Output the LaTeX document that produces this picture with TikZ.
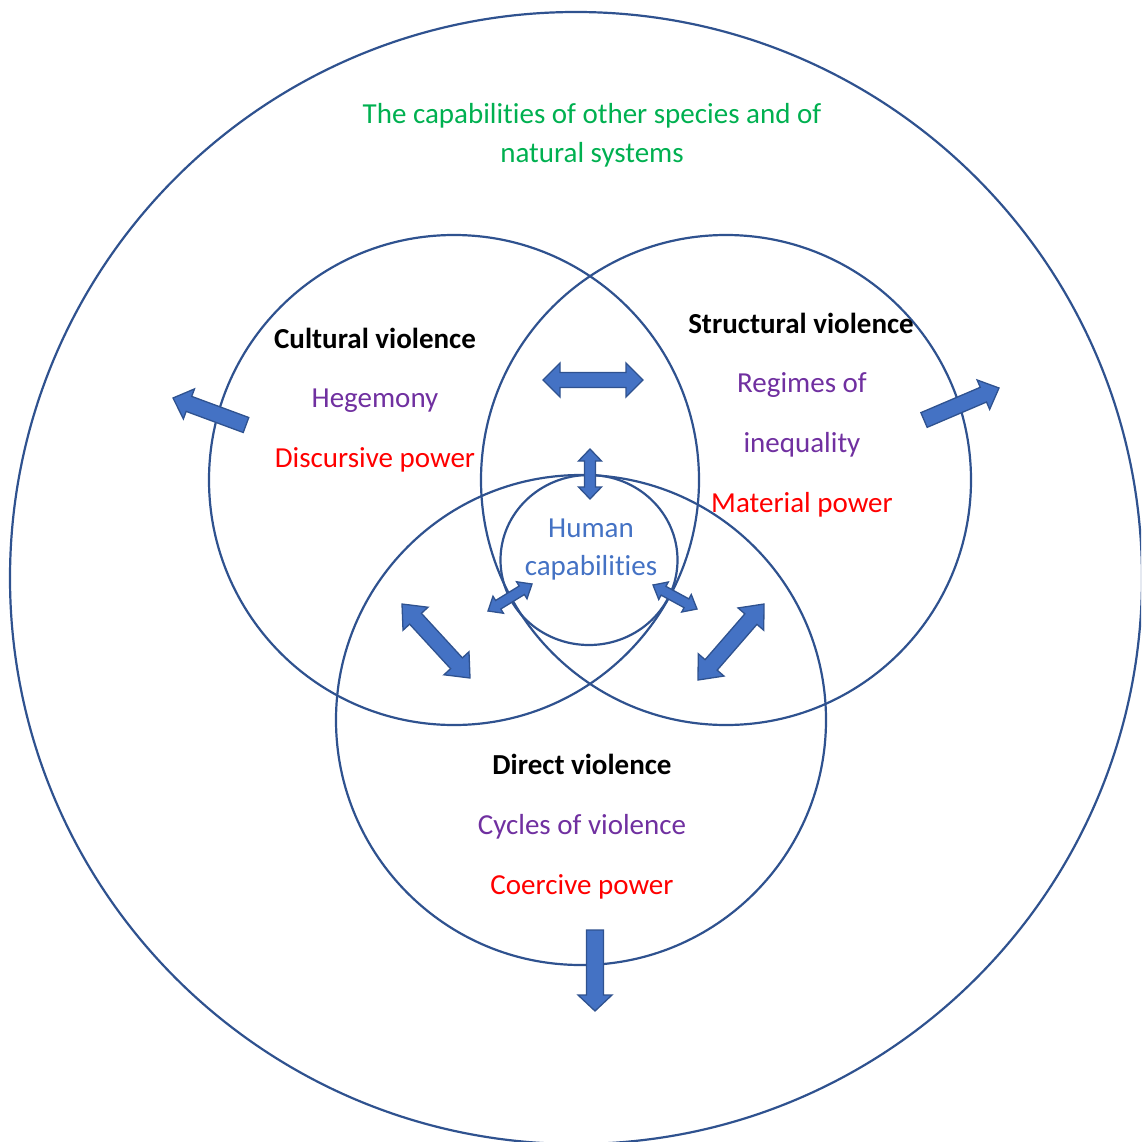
\documentclass[tikz,border=0pt]{standalone}
\usepackage{fontspec}
\setmainfont{Carlito}[Ligatures={NoCommon,NoRare,NoContextual}]
\usetikzlibrary{calc}
\definecolor{lineblue}{HTML}{2F528F}
\definecolor{fillblue}{HTML}{4472C4}
\definecolor{natgreen}{HTML}{00B050}
\definecolor{purp}{HTML}{7030A0}
\definecolor{redt}{HTML}{FF0000}
\newcommand\singlearrow[5]{% tail, tip, half shaft, half head, head length
  \coordinate (hb) at ($(#2)!#5!(#1)$);
  \draw[blockarrow] ($(#1)!#3!90:(#2)$) -- ($(hb)!#3!90:(#2)$) -- ($(hb)!#4!90:(#2)$) -- (#2)
    -- ($(hb)!#4!-90:(#2)$) -- ($(hb)!#3!-90:(#2)$) -- ($(#1)!#3!-90:(#2)$) -- cycle;}
\newcommand\doublearrow[5]{% end A, end B, half shaft, half head, head length
  \coordinate (ha) at ($(#1)!#5!(#2)$);
  \coordinate (hb) at ($(#2)!#5!(#1)$);
  \draw[blockarrow] (#1) -- ($(ha)!#4!90:(#2)$) -- ($(ha)!#3!90:(#2)$) -- ($(hb)!#3!90:(#2)$) -- ($(hb)!#4!90:(#2)$) -- (#2)
    -- ($(hb)!#4!-90:(#2)$) -- ($(hb)!#3!-90:(#2)$) -- ($(ha)!#3!-90:(#2)$) -- ($(ha)!#4!-90:(#2)$) -- cycle;}
\begin{document}
\begin{tikzpicture}[x=1pt,y=-1pt,
  ring/.style={draw=lineblue,line width=2.2pt},
  blockarrow/.style={fill=fillblue,draw=lineblue,line width=1.3pt,line join=miter},
  txt/.style={font=\fontsize{29}{39}\selectfont,anchor=base,inner sep=0pt},
  head/.style={txt,font=\fontsize{29}{39}\selectfont\bfseries,text=black},
  ]
\useasboundingbox (0,0) rectangle (1141,1142);
\clip (0,0) rectangle (1141,1142);
% circles
\coordinate (outer) at (576,578);
\coordinate (cult) at (454,480);
\coordinate (struct) at (726,480);
\coordinate (direct) at (581,720);
\coordinate (human) at (589,560);
\draw[ring] (outer) circle[radius=566];
\draw[ring] (cult) circle[radius=245];
\draw[ring] (struct) circle[radius=245];
\draw[ring] (direct) circle[radius=245];
\draw[ring] (human) circle[x radius=88.5,y radius=85];
% texts
\node[txt,text=natgreen] (g1) at (592,124) {The capabilities of other species and of};
\node[txt,text=natgreen] (g2) at (592,163) {natural systems};
\node[head] (cv) at (375,348) {Cultural violence};
\node[txt,text=purp] (heg) at (375,407) {Hegemony};
\node[txt,text=redt] (disc) at (375,467) {Discursive power};
\node[head] (sv) at (801,333) {Structural violence};
\node[txt,text=purp] (reg) at (802,392) {Regimes of};
\node[txt,text=purp] (ineq) at (802,452) {inequality};
\node[txt,text=redt] (mat) at (802,512) {Material power};
\node[head] (dv) at (582,774) {Direct violence};
\node[txt,text=purp] (cyc) at (582,834) {Cycles of violence};
\node[txt,text=redt] (coer) at (582,894) {Coercive power};
\node[txt,text=fillblue] (hum1) at (591,537) {Human};
\node[txt,text=fillblue] (hum2) at (591,575) {capabilities};
% arrow end points
\coordinate (a1) at (543,380); \coordinate (b1) at (643,380);
\coordinate (a2) at (590,449); \coordinate (b2) at (590,499);
\coordinate (a3) at (246,425); \coordinate (b3) at (173,398);
\coordinate (a4) at (924,420); \coordinate (b4) at (999,388);
\coordinate (a5) at (402,604); \coordinate (b5) at (470,678);
\coordinate (a6) at (698,680); \coordinate (b6) at (764,604);
\coordinate (a7) at (488,611); \coordinate (b7) at (532,584);
\coordinate (a8) at (653,585); \coordinate (b8) at (697,609);
\coordinate (a9) at (595,930); \coordinate (b9) at (595,1011);
\doublearrow{a1}{b1}{7.5pt}{17pt}{17pt}
\doublearrow{a2}{b2}{5.5pt}{11.5pt}{12pt}
\singlearrow{a3}{b3}{8pt}{16pt}{17pt}
\singlearrow{a4}{b4}{8pt}{16pt}{17pt}
\doublearrow{a5}{b5}{8pt}{17pt}{20pt}
\doublearrow{a6}{b6}{8pt}{17pt}{20pt}
\doublearrow{a7}{b7}{5pt}{10pt}{12pt}
\doublearrow{a8}{b8}{5pt}{10pt}{12pt}
\singlearrow{a9}{b9}{8.5pt}{17pt}{16pt}
\end{tikzpicture}
\end{document}
